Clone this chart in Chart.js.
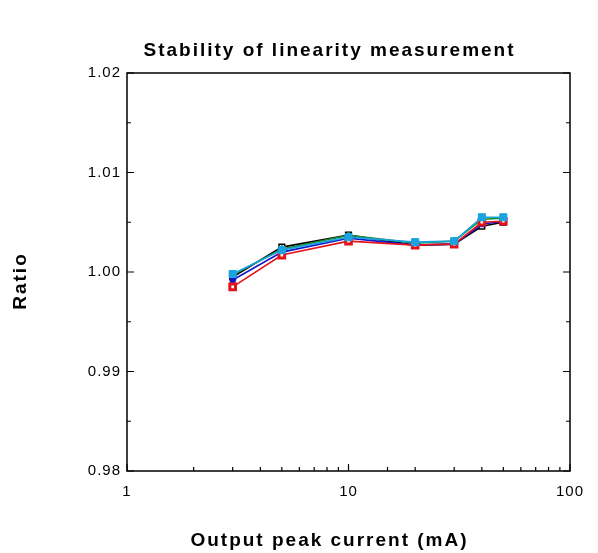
<!DOCTYPE html>
<html>
<head>
<meta charset="utf-8">
<script src="https://cdn.jsdelivr.net/npm/chart.js@4/dist/chart.umd.min.js"></script>
<style>
html,body{margin:0;padding:0;background:#fff;}
#wrap{width:598px;height:553px;position:relative;}
</style>
</head>
<body>
<div id="wrap"><canvas id="c" width="598" height="553"></canvas></div>
<script>
// ---- data ----
const currents = [3, 5, 10, 20, 30, 40, 50];
const seriesCyan  = [0.9998, 1.0022, 1.0035, 1.0030, 1.0031, 1.0055, 1.0055];
const seriesRed   = [0.9985, 1.0017, 1.0031, 1.0027, 1.0028, 1.0050, 1.0051];
const seriesGreen = [0.9997, 1.0023, 1.0037, 1.0029, 1.0031, 1.0053, 1.0054];
const seriesBlue  = [0.9992, 1.0020, 1.0034, 1.0027, 1.0028, 1.0048, 1.0051];
const seriesBlack = [0.9995, 1.0025, 1.0037, 1.0027, 1.0028, 1.0046, 1.0050];
const yTickValues = [0.98, 0.99, 1.00, 1.01, 1.02];
const xTickLabels = [1, 10, 100];
const titleText = 'Stability of linearity measurement';
const xTitleText = 'Output peak current (mA)';
const yTitleText = 'Ratio';

const FONT = '"Liberation Sans", Arial, Helvetica, sans-serif';

function pts(vals){ return currents.map((x,i)=>({x:x, y:vals[i]})); }

function ds(label, vals, color, style, radius, fill, bw){
  return {
    label: label, data: pts(vals), borderColor: color, borderWidth: 1.6,
    pointStyle: style, pointRadius: radius, pointHoverRadius: radius,
    pointBackgroundColor: fill, pointBorderColor: color, pointBorderWidth: bw,
    tension: 0, fill: false
  };
}

const frameTicks = {
  id: 'frameTicks',
  beforeDraw(chart){
    chart.ctx.letterSpacing = '1px';
  },
  afterDraw(chart){
    const ctx = chart.ctx, a = chart.chartArea;
    const xs = chart.scales.x, ys = chart.scales.y;
    ctx.save();
    ctx.strokeStyle = '#000';
    ctx.lineWidth = 1.5;
    ctx.strokeRect(a.left, a.top, a.right - a.left, a.bottom - a.top);
    ctx.lineWidth = 1.2;
    for (let k = 0; k <= 8; k++){
      const v = ys.min + k * (ys.max - ys.min) / 8;
      const py = ys.getPixelForValue(v);
      const len = (k % 2 === 0) ? 7 : 4;
      ctx.beginPath();
      ctx.moveTo(a.left, py); ctx.lineTo(a.left + len, py);
      ctx.moveTo(a.right, py); ctx.lineTo(a.right - len, py);
      ctx.stroke();
    }
    xs.ticks.forEach(t => {
      const px = xs.getPixelForValue(t.value);
      const major = xTickLabels.includes(t.value);
      const len = major ? 7 : 4;
      ctx.beginPath();
      ctx.moveTo(px, a.bottom); ctx.lineTo(px, a.bottom - len);
      ctx.stroke();
    });
    ctx.fillStyle = '#000';
    ctx.textAlign = 'center';
    ctx.textBaseline = 'middle';
    ctx.font = 'bold 19px ' + FONT;
    ctx.letterSpacing = '2px';
    const cx = (a.left - 40 + a.right) / 2 + 1;
    ctx.fillText(titleText, cx, 51);
    ctx.fillText(xTitleText, cx, 541);
    ctx.translate(21, (a.top + a.bottom) / 2 + 9);
    ctx.rotate(-Math.PI / 2);
    ctx.fillText(yTitleText, 0, 0);
    ctx.restore();
  }
};

new Chart(document.getElementById('c'), {
  type: 'line',
  data: {
    datasets: [
      ds('cyan',  seriesCyan,  '#1aa3e0', 'rect', 5, '#1aa3e0', 1),
      ds('red',   seriesRed,   '#e3131b', 'rect', 4, '#ffffff', 3),
      ds('green', seriesGreen, '#1a8c2e', 'triangle', 4, '#1a8c2e', 1),
      ds('blue',  seriesBlue,  '#1515cc', 'rect', 3.5, '#1515cc', 1),
      ds('black', seriesBlack, '#000000', 'rect', 4, '#ffffff', 1.5)
    ]
  },
  options: {
    responsive: false,
    animation: false,
    events: [],
    layout: { padding: { top: 73, right: 28, bottom: 0, left: 0 } },
    plugins: { legend: { display: false }, title: { display: false }, tooltip: { enabled: false } },
    scales: {
      x: {
        type: 'logarithmic', min: 1, max: 100,
        grid: { display: false, drawTicks: false },
        border: { display: false },
        ticks: {
          font: { family: FONT, size: 15 }, color: '#000', padding: 12,
          maxRotation: 0, autoSkip: false,
          callback: (v) => xTickLabels.includes(v) ? String(v) : ''
        },
        afterFit: (s) => { s.height = 82; }
      },
      y: {
        min: 0.98, max: 1.02,
        grid: { display: false, drawTicks: false },
        border: { display: false },
        afterBuildTicks: (s) => { s.ticks = yTickValues.map(v => ({ value: v })); },
        ticks: {
          font: { family: FONT, size: 15 }, color: '#000', padding: 6,
          callback: (v) => Number(v).toFixed(2)
        },
        afterFit: (s) => { s.width = 127; }
      }
    }
  },
  plugins: [frameTicks]
});
</script>
</body>
</html>
